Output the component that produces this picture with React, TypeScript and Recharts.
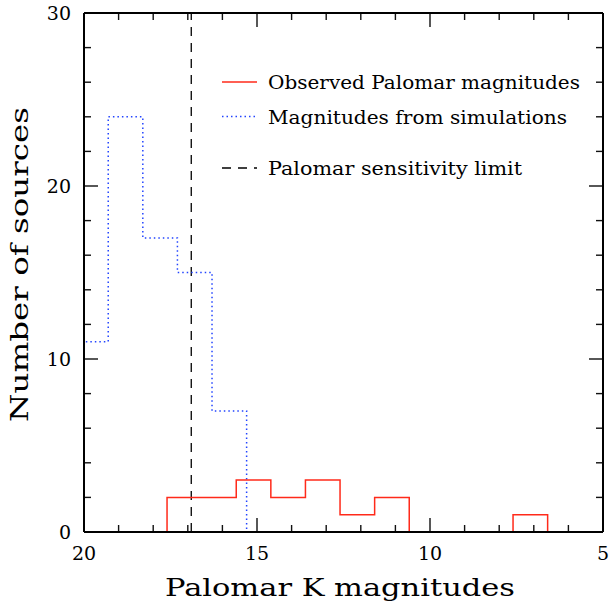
import { LineChart, Line, XAxis, YAxis, ReferenceLine, Customized } from 'recharts'

// histogram bin edges (K mag) and source counts per bin
const simEdges = [20.3, 19.3, 18.3, 17.3, 16.3, 15.3]
const simCounts = [11, 24, 17, 15, 7]
const obsEdges = [17.6, 16.6, 15.6, 14.6, 13.6, 12.6, 11.6, 10.6, 9.6, 8.6, 7.6, 6.6]
const obsCounts = [2, 2, 3, 2, 3, 1, 2, 0, 0, 0, 1]
const sensitivityLimit = 16.9

const magTicks = [20, 19, 18, 17, 16, 15, 14, 13, 12, 11, 10, 9, 8, 7, 6, 5]
const countTicks = [0, 2, 4, 6, 8, 10, 12, 14, 16, 18, 20, 22, 24, 26, 28, 30]

const RED = '#ff2a1a'
const BLUE = '#2244ff'
const FONT = '"DejaVu Serif", serif'

// turn edges + counts into a closed step outline for curve type stepAfter
function toSteps(edges: number[], counts: number[]) {
  const pts = [{ m: edges[0], n: 0 }]
  counts.forEach((c, i) => pts.push({ m: edges[i], n: c }))
  pts.push({ m: edges[edges.length - 1], n: 0 })
  return pts
}

const simSteps = toSteps(simEdges, simCounts)
const obsSteps = toSteps(obsEdges, obsCounts)

const W = 609
const H = 605
// axis boxes: top 30, bottom 30, left 60, right 60 -> frame at 84..603 x 13..532
const M = { top: -17, right: -54, bottom: 43, left: 24 }
const FRAME = { left: 84, top: 13, size: 519 }

// frame position of a magnitude / count, same linear map as the axes
const fx = (m: number) => FRAME.left + ((20 - m) / 15) * FRAME.size
const fy = (c: number) => FRAME.top + FRAME.size - (c / 30) * FRAME.size

function MagLabel(props: any) {
  const { x, y, payload } = props
  if (payload.value % 5 !== 0) return null
  return (
    <text x={x} y={y + 28} textAnchor="middle" fontFamily={FONT} fontSize={19} fill="#000">
      {payload.value}
    </text>
  )
}

function CountLabel(props: any) {
  const { x, y, payload } = props
  if (payload.value % 10 !== 0) return null
  return (
    <text x={x - 13} y={y + 7} textAnchor="end" fontFamily={FONT} fontSize={19} fill="#000">
      {payload.value}
    </text>
  )
}

const TW = 1.4 // tick thickness

// inward tick marks on all four sides of the frame, as thin filled bars
function FrameTicks() {
  const right = FRAME.left + FRAME.size
  const bottom = FRAME.top + FRAME.size
  const bars: { x: number; y: number; w: number; h: number; k: string }[] = []
  magTicks.forEach((m) => {
    const len = m % 5 === 0 ? 14 : 7
    const x = fx(m) - TW / 2
    bars.push({ k: `b${m}`, x, y: bottom - len, w: TW, h: len })
    bars.push({ k: `t${m}`, x, y: FRAME.top, w: TW, h: len })
  })
  countTicks.forEach((c) => {
    const len = c % 10 === 0 ? 14 : 7
    const y = fy(c) - TW / 2
    bars.push({ k: `l${c}`, x: FRAME.left, y, w: len, h: TW })
    bars.push({ k: `r${c}`, x: right - len, y, w: len, h: TW })
  })
  return (
    <g className="frame-ticks">
      {bars.map((b) => (
        <rect key={b.k} x={b.x} y={b.y} width={b.w} height={b.h} fill="#111" stroke="none" />
      ))}
    </g>
  )
}

const legendRows = [
  { label: 'Observed Palomar magnitudes', color: RED, dash: undefined, y: 82, len: 312 },
  { label: 'Magnitudes from simulations', color: BLUE, dash: '1.5 3', y: 116.5, len: 299 },
  { label: 'Palomar sensitivity limit', color: '#000', dash: '9 7', y: 168, len: 254 },
]

function Annotations() {
  return (
    <g fontFamily={FONT} fill="#000">
      <FrameTicks />
      {legendRows.map((r) => (
        <g key={r.label}>
          <line x1={222} y1={r.y} x2={257} y2={r.y} stroke={r.color} strokeWidth={1.4} strokeDasharray={r.dash} />
          <text x={268} y={r.y + 7} fontSize={18.5} textLength={r.len} lengthAdjust="spacingAndGlyphs">
            {r.label}
          </text>
        </g>
      ))}
      <text x={165} y={596} fontSize={25} textLength={350} lengthAdjust="spacingAndGlyphs">
        Palomar K magnitudes
      </text>
      <text
        transform="translate(28, 422) rotate(-90)"
        x={0}
        y={0}
        fontSize={25}
        textLength={315}
        lengthAdjust="spacingAndGlyphs"
      >
        Number of sources
      </text>
    </g>
  )
}

const axisLine = { stroke: '#000', strokeWidth: 2 }

export default function App() {
  return (
    <div style={{ position: 'absolute', left: 0, top: 0, width: W, height: H, background: '#fff' }}>
      <LineChart width={W} height={H} margin={M}>
        <XAxis
          xAxisId="b"
          dataKey="m"
          type="number"
          domain={[5, 20]}
          reversed
          allowDataOverflow
          ticks={magTicks}
          interval={0}
          tickSize={0}
          tickMargin={0}
          tickLine={false}
          axisLine={axisLine}
          tick={<MagLabel />}
        />
        <XAxis
          xAxisId="t"
          orientation="top"
          dataKey="m"
          type="number"
          domain={[5, 20]}
          reversed
          allowDataOverflow
          tick={false}
          tickLine={false}
          axisLine={axisLine}
        />
        <YAxis
          yAxisId="l"
          type="number"
          domain={[0, 30]}
          allowDataOverflow
          ticks={countTicks}
          interval={0}
          tickSize={0}
          tickMargin={0}
          tickLine={false}
          axisLine={axisLine}
          tick={<CountLabel />}
        />
        <YAxis
          yAxisId="r"
          orientation="right"
          type="number"
          domain={[0, 30]}
          allowDataOverflow
          tick={false}
          tickLine={false}
          axisLine={axisLine}
        />
        <ReferenceLine
          xAxisId="b"
          yAxisId="l"
          x={sensitivityLimit}
          stroke="#000"
          strokeWidth={1.3}
          strokeDasharray="9 7"
        />
        {/* both frames share identical domains, so each series hangs on one pair */}
        <Line
          xAxisId="t"
          yAxisId="r"
          data={simSteps}
          dataKey="n"
          type="stepAfter"
          stroke={BLUE}
          strokeWidth={1.5}
          strokeDasharray="1.5 3"
          dot={false}
          activeDot={false}
          isAnimationActive={false}
        />
        <Line
          xAxisId="b"
          yAxisId="l"
          data={obsSteps}
          dataKey="n"
          type="stepAfter"
          stroke={RED}
          strokeWidth={1.5}
          dot={false}
          activeDot={false}
          isAnimationActive={false}
        />
        <Customized component={<Annotations />} />
      </LineChart>
    </div>
  )
}
